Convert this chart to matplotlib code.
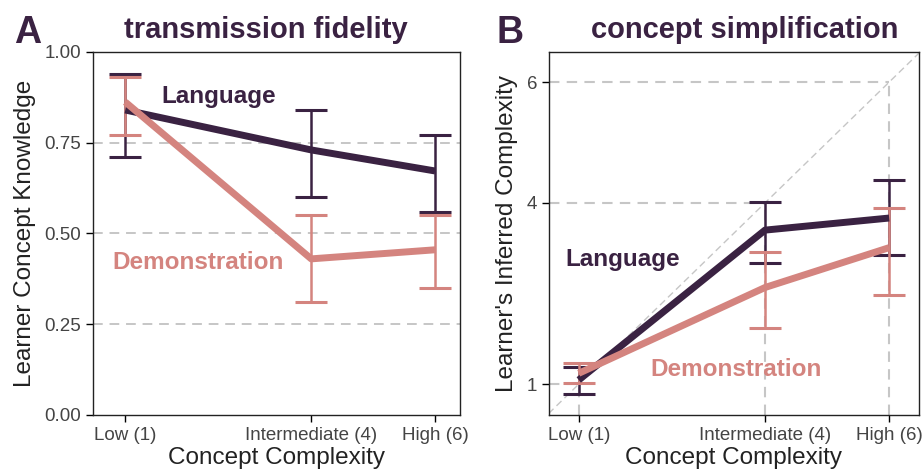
import matplotlib
matplotlib.use("Agg")
import matplotlib.pyplot as plt

plt.rcParams['font.family'] = ['Liberation Sans', 'DejaVu Sans']

# ---- data ----
complexity = [1, 4, 6]
tick_labels = ["Low (1)", "Intermediate (4)", "High (6)"]

lang_knowledge = [0.84, 0.73, 0.672]
lang_knowledge_lo = [0.71, 0.60, 0.56]
lang_knowledge_hi = [0.94, 0.84, 0.77]
demo_knowledge = [0.862, 0.43, 0.455]
demo_knowledge_lo = [0.77, 0.31, 0.35]
demo_knowledge_hi = [0.93, 0.55, 0.55]

lang_inferred = [1.07, 3.55, 3.75]
lang_inferred_lo = [0.83, 3.00, 3.14]
lang_inferred_hi = [1.28, 4.02, 4.38]
demo_inferred = [1.18, 2.60, 3.26]
demo_inferred_lo = [1.02, 1.93, 2.48]
demo_inferred_hi = [1.35, 3.19, 3.92]

knowledge_ticks = [0.00, 0.25, 0.50, 0.75, 1.00]
inferred_ticks = [1, 4, 6]

DARK = "#3a2242"
PINK = "#d4847f"
GRID = "#c6c6c6"

fig = plt.figure(figsize=(9.22, 4.74), dpi=100)
axA = fig.add_axes([0.1009, 0.1245, 0.398, 0.766])
axB = fig.add_axes([0.5954, 0.1245, 0.4013, 0.766])


def draw_series(ax, y, lo, hi, color, lw):
    yerr = [[v - l for v, l in zip(y, lo)], [h - v for v, h in zip(y, hi)]]
    ax.errorbar(complexity, y, yerr=yerr, color=color, lw=lw, elinewidth=1.8,
                capsize=11.5, capthick=2.2, zorder=3, solid_capstyle='butt')


# ---- Panel A ----
for g in [0.25, 0.5, 0.75]:
    axA.axhline(g, color=GRID, lw=1.4, ls=(0, (5, 3.5)), zorder=1)
draw_series(axA, lang_knowledge, lang_knowledge_lo, lang_knowledge_hi, DARK, 5.0)
draw_series(axA, demo_knowledge, demo_knowledge_lo, demo_knowledge_hi, PINK, 5.0)
axA.set_xlim(0.48, 6.4)
axA.set_ylim(0, 1)
axA.set_yticks(knowledge_ticks)
axA.set_yticklabels([f"{t:.2f}" for t in knowledge_ticks])
axA.set_ylabel("Learner Concept Knowledge", fontsize=17.5, color="#222222", labelpad=6)
axA.text(2.5, 0.876, "Language", color=DARK, fontsize=17.5, fontweight='bold',
         ha='center', va='center')
axA.text(2.18, 0.42, "Demonstration", color=PINK, fontsize=17.5, fontweight='bold',
         ha='center', va='center')
axA.set_title("transmission fidelity", fontsize=21, fontweight='bold', color=DARK, pad=10,
              x=0.47)
fig.text(0.015, 0.893, "A", fontsize=27, fontweight='bold', color=DARK, ha='left', va='bottom')

# ---- Panel B ----
xlimB = (0.52, 6.48)
ylimB = (0.49, 6.5)
axB.plot([0, 7], [0, 7], color=GRID, lw=1.0, ls=(0, (5, 3)), zorder=1)
for v in inferred_ticks:
    axB.plot([xlimB[0], v], [v, v], color=GRID, lw=1.5, ls=(0, (5, 3.5)), zorder=1)
    axB.plot([v, v], [ylimB[0], v], color=GRID, lw=1.5, ls=(0, (5, 3.5)), zorder=1)
draw_series(axB, lang_inferred, lang_inferred_lo, lang_inferred_hi, DARK, 5.0)
draw_series(axB, demo_inferred, demo_inferred_lo, demo_inferred_hi, PINK, 5.0)
axB.set_xlim(*xlimB)
axB.set_ylim(*ylimB)
axB.set_yticks(inferred_ticks)
axB.set_yticklabels([str(t) for t in inferred_ticks])
axB.set_ylabel("Learner's Inferred Complexity", fontsize=17.5, color="#222222", labelpad=6)
axB.text(1.71, 3.07, "Language", color=DARK, fontsize=17.5, fontweight='bold',
         ha='center', va='center')
axB.text(3.53, 1.24, "Demonstration", color=PINK, fontsize=17.5, fontweight='bold',
         ha='center', va='center')
axB.set_title("concept simplification", fontsize=21, fontweight='bold', color=DARK, pad=10,
              x=0.53)
fig.text(0.538, 0.893, "B", fontsize=27, fontweight='bold', color=DARK, ha='left', va='bottom')

for ax in (axA, axB):
    ax.set_xticks(complexity)
    ax.set_xticklabels(tick_labels)
    ax.set_xlabel("Concept Complexity", fontsize=17.5, color="#222222", labelpad=2)
    ax.tick_params(labelsize=13.5, labelcolor="#444444", length=5, width=1, direction='out')
    for s in ax.spines.values():
        s.set_linewidth(1.0)
        s.set_color("#222222")

fig.savefig("out.png", dpi=100)
